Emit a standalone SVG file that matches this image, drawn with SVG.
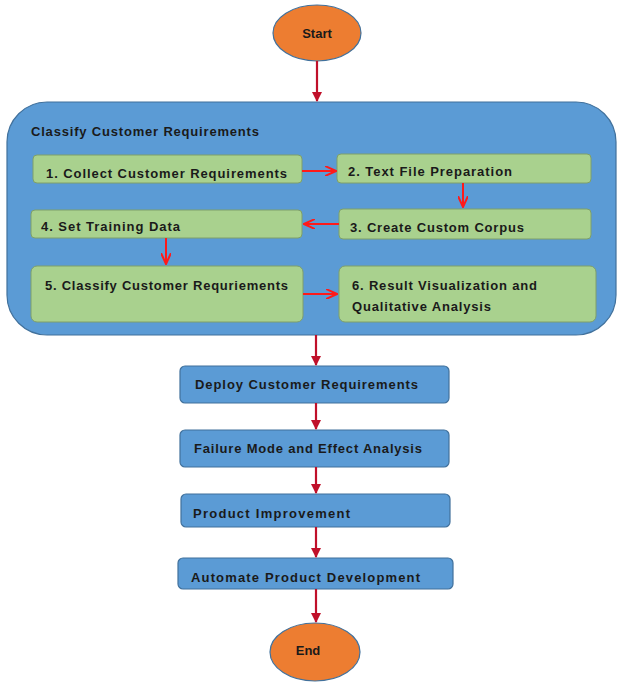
<svg xmlns="http://www.w3.org/2000/svg" width="618" height="682" viewBox="0 0 618 682">
<style>
text{font-family:"Liberation Sans",Arial,sans-serif;font-weight:bold;font-size:13px;fill:#1a1a1a}
.term{fill:#ED7D31;stroke:#41719C;stroke-width:1.2}
.blue{fill:#5B9BD5;stroke:#41719C;stroke-width:1.2}
.green{fill:#A9D18E;stroke:#7E9F6A;stroke-width:1}
.c1{stroke:#C0102A;stroke-width:2.2;fill:none}
.c2{stroke:#FF1A1A;stroke-width:2;fill:none}
</style>
<defs>
<marker id="ah1" markerWidth="10" markerHeight="10" refX="9" refY="5" orient="auto" markerUnits="userSpaceOnUse"><path d="M0,0 L10,5 L0,10 Z" fill="#C0102A"/></marker>
<marker id="ah2" markerWidth="12" markerHeight="10" refX="11" refY="5" orient="auto" markerUnits="userSpaceOnUse"><path d="M0,0 L11,5 L0,10" fill="none" stroke="#FF1A1A" stroke-width="2"/></marker>
</defs>
<rect width="618" height="682" fill="#fff"/>
<g id="start"><ellipse class="term" cx="317" cy="33" rx="44" ry="28"/><text x="317" y="38" text-anchor="middle">Start</text></g>
<g id="classify"><rect class="blue" x="7" y="102" width="609" height="233" rx="40"/><text x="31" y="136" textLength="228">Classify Customer Requirements</text></g>
<g id="n1"><rect class="green" x="33" y="155" width="269" height="28" rx="4"/><text x="46" y="178" textLength="241">1. Collect Customer Requirements</text></g>
<g id="n2"><rect class="green" x="337" y="154" width="254" height="29" rx="4"/><text x="348" y="176" textLength="164">2. Text File Preparation</text></g>
<g id="n3"><rect class="green" x="339" y="209" width="252" height="30" rx="4"/><text x="350" y="232" textLength="174">3. Create Custom Corpus</text></g>
<g id="n4"><rect class="green" x="31" y="210" width="271" height="28" rx="4"/><text x="41" y="231" textLength="139">4. Set Training Data</text></g>
<g id="n5"><rect class="green" x="31" y="266" width="272" height="56" rx="6"/><text x="45" y="290" textLength="243">5. Classify Customer Requriements</text></g>
<g id="n6"><rect class="green" x="339" y="266" width="257" height="56" rx="6"/><text x="352" y="290" textLength="185">6. Result Visualization and</text><text x="352" y="311" textLength="139">Qualitative Analysis</text></g>
<g id="deploy"><rect class="blue" x="180" y="366" width="269" height="37" rx="5"/><text x="195" y="389" textLength="223">Deploy Customer Requirements</text></g>
<g id="fmea"><rect class="blue" x="180" y="430" width="269" height="37" rx="5"/><text x="194" y="453" textLength="228">Failure Mode and Effect Analysis</text></g>
<g id="improve"><rect class="blue" x="181" y="494" width="269" height="33" rx="5"/><text x="193" y="518" textLength="157">Product Improvement</text></g>
<g id="automate"><rect class="blue" x="178" y="558" width="275" height="31" rx="5"/><text x="191" y="582" textLength="229">Automate Product Development</text></g>
<g id="end"><ellipse class="term" cx="315" cy="652" rx="45" ry="29"/><text x="308" y="655" text-anchor="middle">End</text></g>
<g id="connectors">
<line class="c1" x1="317" y1="61" x2="317" y2="101" marker-end="url(#ah1)"/>
<line class="c2" x1="302" y1="171" x2="336" y2="171" marker-end="url(#ah2)"/>
<line class="c2" x1="463" y1="183" x2="463" y2="207" marker-end="url(#ah2)"/>
<line class="c2" x1="339" y1="224" x2="304" y2="224" marker-end="url(#ah2)"/>
<line class="c2" x1="166" y1="238" x2="166" y2="264" marker-end="url(#ah2)"/>
<line class="c2" x1="303" y1="294" x2="337" y2="294" marker-end="url(#ah2)"/>
<line class="c1" x1="316" y1="335" x2="316" y2="365" marker-end="url(#ah1)"/>
<line class="c1" x1="316" y1="403" x2="316" y2="429" marker-end="url(#ah1)"/>
<line class="c1" x1="316" y1="467" x2="316" y2="493" marker-end="url(#ah1)"/>
<line class="c1" x1="316" y1="527" x2="316" y2="557" marker-end="url(#ah1)"/>
<line class="c1" x1="316" y1="589" x2="316" y2="622" marker-end="url(#ah1)"/>
</g>
</svg>
